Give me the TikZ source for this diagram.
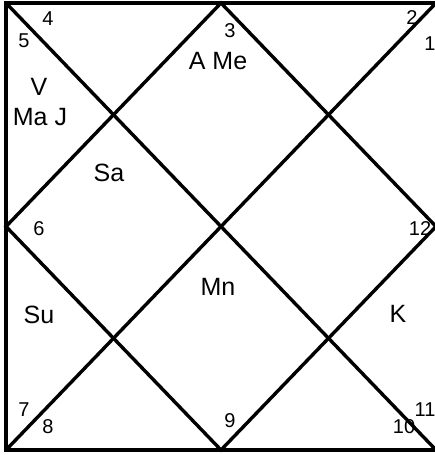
\documentclass[tikz,border=0pt]{standalone}
\usepackage{fontspec}
\setmainfont{Liberation Sans}
\begin{document}
\begin{tikzpicture}[x=1pt,y=-1pt,
  chartline/.style={line width=3.4pt,line join=miter,line cap=butt},
  num/.style={inner sep=0pt,font=\fontsize{20}{20}\selectfont},
  planet/.style={inner sep=0pt,align=center,font=\fontsize{25}{27}\selectfont}]
\useasboundingbox (0,0) rectangle (435,455);
\coordinate (tl) at (6,3);
\coordinate (tr) at (436,3);
\coordinate (bl) at (6,450);
\coordinate (br) at (436,450);
\coordinate (tm) at (221,3);
\coordinate (rm) at (436,226.5);
\coordinate (bm) at (221,450);
\coordinate (lm) at (6,226.5);
\begin{scope}
\clip (0,0) rectangle (435,455);
\draw[chartline] (tr) -- (tl) -- (bl) -- (br);
\draw[chartline] (tl) -- (br);
\draw[chartline] (bl) -- (tr);
\draw[chartline] (tm) -- (rm) -- (bm) -- (lm) -- cycle;
\end{scope}
% house numbers
\node[num] (n4) at (48,19) {4};
\node[num] (n5) at (24,41) {5};
\node[num] (n3) at (230,31) {3};
\node[num] (n2) at (412,18) {2};
\node[num] (n1) at (430,44) {1};
\node[num] (n6) at (39,229) {6};
\node[num] (n12) at (420,229) {12};
\node[num] (n7) at (24,410) {7};
\node[num] (n8) at (48,427) {8};
\node[num] (n9) at (230,421) {9};
\node[num] (n11) at (425,410) {11};
\node[num] (n10) at (404,427) {10};
% planets
\node[planet] (pame) at (218,61) {A Me};
\node[planet] (pv) at (39,87) {V};
\node[planet] (pmaj) at (40,117) {Ma J};
\node[planet] (psa) at (109,173) {Sa};
\node[planet] (pmn) at (218,287) {Mn};
\node[planet] (psu) at (39,315) {Su};
\node[planet] (pk) at (398,314) {K};
\end{tikzpicture}
\end{document}
